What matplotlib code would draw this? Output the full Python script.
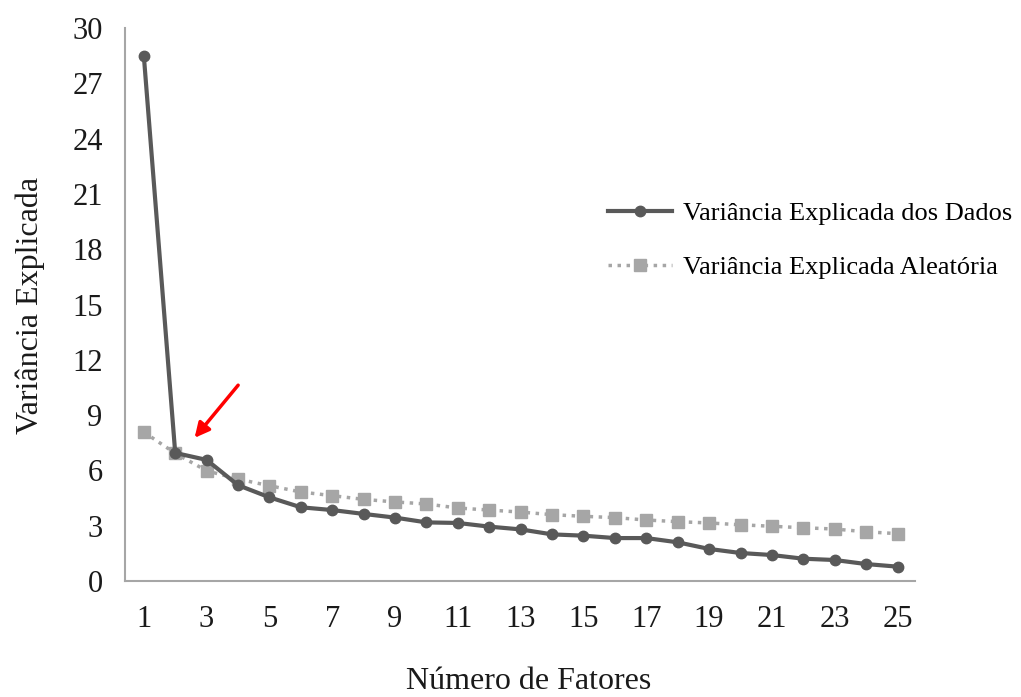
import numpy as np
import matplotlib
matplotlib.use("Agg")
import matplotlib.pyplot as plt

plt.rcParams['font.family'] = ['Liberation Serif', 'DejaVu Serif']

# Dados
fatores = np.arange(1, 26)
var_dados = [28.5, 6.95, 6.57, 5.2, 4.54, 4.0, 3.85, 3.64, 3.44, 3.18, 3.15, 2.95, 2.80,
             2.53, 2.46, 2.33, 2.33, 2.1, 1.74, 1.52, 1.41, 1.21, 1.14, 0.92, 0.78]
var_aleatoria = [8.08, 6.93, 5.98, 5.53, 5.17, 4.83, 4.63, 4.43, 4.29, 4.18, 3.96, 3.85, 3.74,
                 3.60, 3.51, 3.44, 3.31, 3.22, 3.15, 3.05, 2.97, 2.89, 2.82, 2.67, 2.57]
xticks = list(range(1, 26, 2))
yticks = list(range(0, 31, 3))

fig = plt.figure(figsize=(10.21, 6.97), dpi=100)
ax = fig.add_axes([0.1224, 0.1664, 0.7736, 0.7934])

ax.plot(fatores, var_aleatoria, color='#A6A6A6', linestyle=(0, (1, 1.6)), linewidth=2.5,
        marker='s', markersize=8, label='Variância Explicada Aleatória', zorder=2)
ax.plot(fatores, var_dados, color='#595959', linewidth=3,
        marker='o', markersize=7.5, label='Variância Explicada dos Dados', zorder=3)

# seta vermelha
ax.annotate('', xy=(2.56, 7.65), xytext=(4.06, 10.74),
            arrowprops=dict(arrowstyle='-|>', color='red', lw=2.5, mutation_scale=22))

ax.set_xlim(0.4, 25.55)
ax.set_ylim(0, 30)
ax.set_xticks(xticks)
ax.set_yticks(yticks)
ax.tick_params(length=0, labelsize=22, colors='#1a1a1a')
ax.tick_params(axis='x', pad=17)
ax.tick_params(axis='y', pad=16)
for s in ['top', 'right']:
    ax.spines[s].set_visible(False)
for s in ['left', 'bottom']:
    ax.spines[s].set_color('#A6A6A6')
    ax.spines[s].set_linewidth(1.5)

fig.text(0.518, 0.012, 'Número de Fatores', ha='center', va='baseline', fontsize=23, color='#1a1a1a')
fig.text(0.03, 0.562, 'Variância Explicada', ha='center', va='center', rotation=90,
         fontsize=23, color='#1a1a1a')

h, l = ax.get_legend_handles_labels()
fig.legend(h[::-1], l[::-1], loc='center left', bbox_to_anchor=(0.572, 0.655),
           frameon=False, fontsize=19, handlelength=2.45, handletextpad=0.4,
           labelspacing=1.15, numpoints=1)

fig.savefig('out.png', dpi=100)
